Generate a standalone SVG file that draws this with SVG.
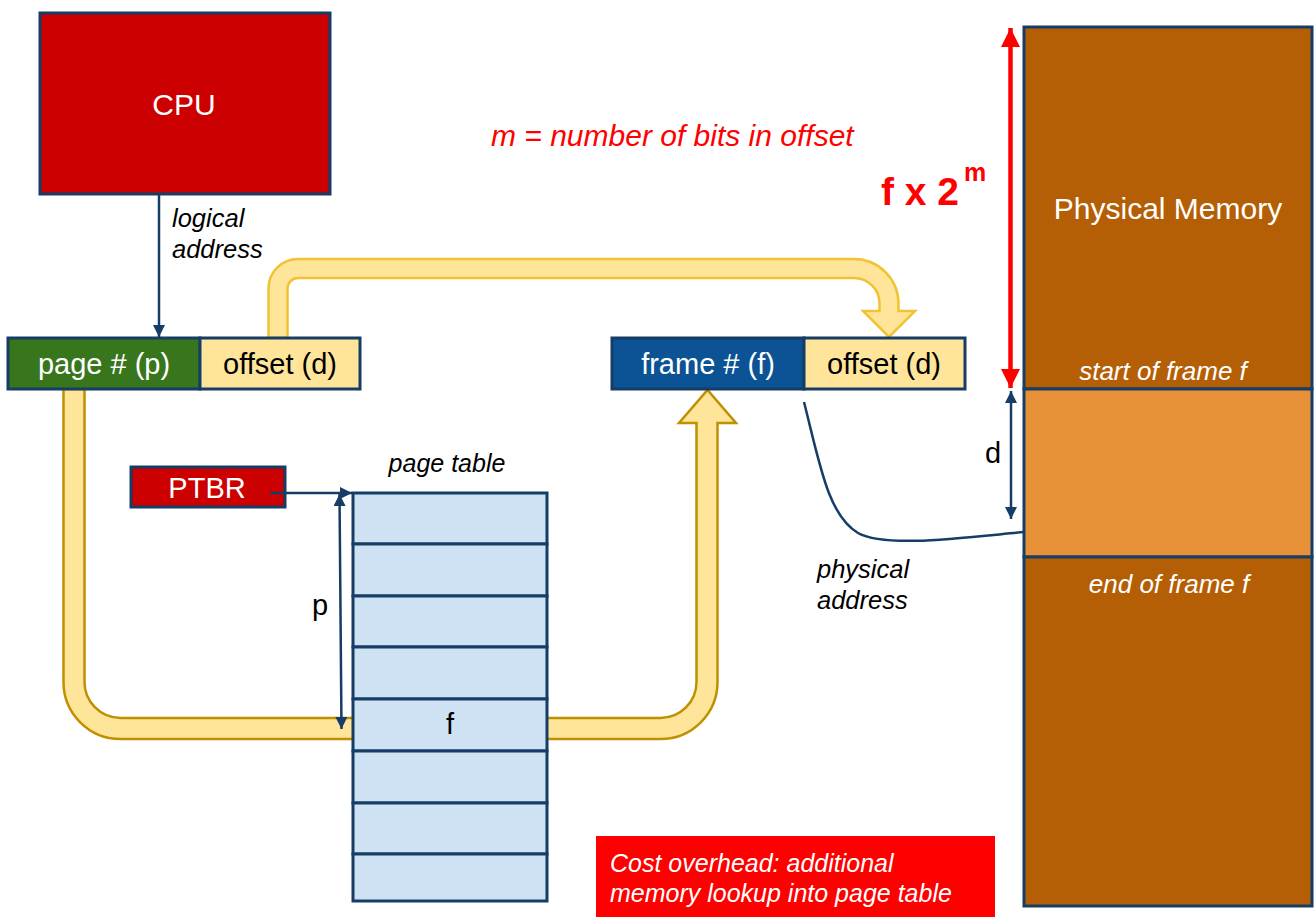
<svg xmlns="http://www.w3.org/2000/svg" width="1315" height="917" viewBox="0 0 1315 917">
  <style>
    .box { stroke: #163d66; stroke-width: 3; }
    .lbl { font-family: "Liberation Sans", Arial, sans-serif; }
    .it { font-family: "Liberation Sans", Arial, sans-serif; font-style: italic; }
    .wire { fill: none; stroke: #163d66; stroke-width: 2.5; }
    .band { fill: #ffe599; stroke-width: 2.5; stroke-linejoin: miter; }
    .row { fill: #cfe2f3; stroke: #163d66; stroke-width: 3; }
  </style>
  <defs>
    <marker id="navyHead" viewBox="0 0 10 10" refX="10" refY="5" markerWidth="15" markerHeight="12" markerUnits="userSpaceOnUse" orient="auto-start-reverse">
      <path d="M0,0 L10,5 L0,10 Z" fill="#163d66"/>
    </marker>
    <marker id="redHead" viewBox="0 0 10 10" refX="10" refY="5" markerWidth="25" markerHeight="19" markerUnits="userSpaceOnUse" orient="auto-start-reverse">
      <path d="M0,0 L10,5 L0,10 Z" fill="#ff0000"/>
    </marker>
  </defs>

  <!-- broad yellow flow arrows -->
  <g id="flows">
    <path id="offset-flow" class="band" stroke="#f1c232"
          d="M268.5 338 L268.5 288.5 A29.5 29.5 0 0 1 298 259 L854 259 A44.5 44.5 0 0 1 898.5 303.5 L898.5 311 L915 311 L889 337 L863 311 L879.5 311 L879.5 303.5 A25.5 25.5 0 0 0 854 278 L298 278 A10.5 10.5 0 0 0 287.5 288.5 L287.5 338 Z"/>
    <path id="page-flow" class="band" stroke="#bf9000"
          d="M63.5 389 L63.5 682 A57 57 0 0 0 120.5 739 L660.5 739 A57 57 0 0 0 717.5 682 L717.5 423 L736 423 L707.5 390 L679 423 L696.5 423 L696.5 682 A36 36 0 0 1 660.5 718 L120.5 718 A36 36 0 0 1 84.5 682 L84.5 389 Z"/>
  </g>

  <!-- CPU -->
  <g id="cpu">
    <rect class="box" x="40" y="13" width="290" height="181" fill="#cc0000"/>
    <text class="lbl" x="184" y="115" font-size="30" fill="#ffffff" text-anchor="middle">CPU</text>
  </g>

  <!-- logical address -->
  <g id="logical-address">
    <rect class="box" x="8" y="338" width="192" height="51" fill="#38761d"/>
    <rect class="box" x="200" y="338" width="160" height="51" fill="#ffe599"/>
    <text class="lbl" x="104" y="374" font-size="29" fill="#ffffff" text-anchor="middle">page # (p)</text>
    <text class="lbl" x="280" y="374" font-size="29" fill="#000000" text-anchor="middle">offset (d)</text>
  </g>

  <!-- physical address -->
  <g id="physical-address">
    <rect class="box" x="612" y="338" width="192" height="51" fill="#0b5394"/>
    <rect class="box" x="804" y="338" width="161" height="51" fill="#ffe599"/>
    <text class="lbl" x="708" y="374" font-size="29" fill="#ffffff" text-anchor="middle">frame # (f)</text>
    <text class="lbl" x="884" y="374" font-size="29" fill="#000000" text-anchor="middle">offset (d)</text>
  </g>

  <!-- page table base register -->
  <g id="ptbr">
    <rect class="box" x="131" y="467" width="154" height="40" fill="#cc0000"/>
    <text class="lbl" x="207" y="498" font-size="29" fill="#ffffff" text-anchor="middle">PTBR</text>
  </g>

  <!-- page table -->
  <g id="page-table">
    <rect class="row" x="353" y="493" width="194" height="51"/>
    <rect class="row" x="353" y="544" width="194" height="52"/>
    <rect class="row" x="353" y="596" width="194" height="51"/>
    <rect class="row" x="353" y="647" width="194" height="52"/>
    <rect class="row" x="353" y="699" width="194" height="52"/>
    <rect class="row" x="353" y="751" width="194" height="52"/>
    <rect class="row" x="353" y="803" width="194" height="51"/>
    <rect class="row" x="353" y="854" width="194" height="47"/>
    <text class="lbl" x="450" y="734" font-size="29" fill="#000000" text-anchor="middle">f</text>
    <text class="it" x="447" y="472" font-size="25" fill="#000000" text-anchor="middle">page table</text>
  </g>

  <!-- physical memory -->
  <g id="physical-memory">
    <rect class="box" x="1024" y="27" width="288" height="362" fill="#b45f06"/>
    <rect class="box" x="1024" y="389" width="288" height="168" fill="#e69138"/>
    <rect class="box" x="1024" y="557" width="288" height="349" fill="#b45f06"/>
    <text class="lbl" x="1168" y="219" font-size="30" fill="#ffffff" text-anchor="middle">Physical Memory</text>
    <text class="it" x="1163" y="380" font-size="26" fill="#ffffff" text-anchor="middle">start of frame f</text>
    <text class="it" x="1169" y="593" font-size="26" fill="#ffffff" text-anchor="middle">end of frame f</text>
  </g>

  <!-- cost note -->
  <g id="cost-note">
    <rect x="596" y="836" width="399" height="81" fill="#ff0000"/>
    <text class="it" x="610" y="872" font-size="25" fill="#ffffff">Cost overhead: additional</text>
    <text class="it" x="610" y="902" font-size="25" fill="#ffffff">memory lookup into page table</text>
  </g>

  <!-- thin connectors and dimension arrows -->
  <g id="connectors">
    <line class="wire" x1="159" y1="194" x2="159" y2="337" marker-end="url(#navyHead)"/>
    <line class="wire" x1="270" y1="493" x2="352" y2="493" marker-end="url(#navyHead)"/>
    <line class="wire" x1="339.5" y1="494" x2="341.5" y2="729" marker-start="url(#navyHead)" marker-end="url(#navyHead)"/>
    <line class="wire" x1="1011" y1="391" x2="1011" y2="519" marker-start="url(#navyHead)" marker-end="url(#navyHead)"/>
    <path class="wire" d="M804 402 C820 465 828 515 858 533 C885 548 960 538 1024 532"/>
    <line x1="1010.5" y1="28" x2="1010.5" y2="388" stroke="#ff0000" stroke-width="4.5" marker-start="url(#redHead)" marker-end="url(#redHead)"/>
  </g>

  <!-- free labels -->
  <g id="labels">
    <text class="it" x="172" y="227" font-size="25.5" fill="#000000">logical</text>
    <text class="it" x="172" y="258" font-size="25.5" fill="#000000">address</text>
    <text class="lbl" x="320" y="615" font-size="29" fill="#000000" text-anchor="middle">p</text>
    <text class="lbl" x="993" y="463" font-size="29" fill="#000000" text-anchor="middle">d</text>
    <text class="it" x="817" y="578" font-size="25.5" fill="#000000">physical</text>
    <text class="it" x="817" y="609" font-size="25.5" fill="#000000">address</text>
    <text class="it" x="491" y="146" font-size="30" fill="#ff0000">m = number of bits in offset</text>
    <text class="lbl" x="881" y="205" font-size="39" font-weight="bold" fill="#ff0000">f x 2</text>
    <text class="lbl" x="964" y="181" font-size="25" font-weight="bold" fill="#ff0000">m</text>
  </g>
</svg>
